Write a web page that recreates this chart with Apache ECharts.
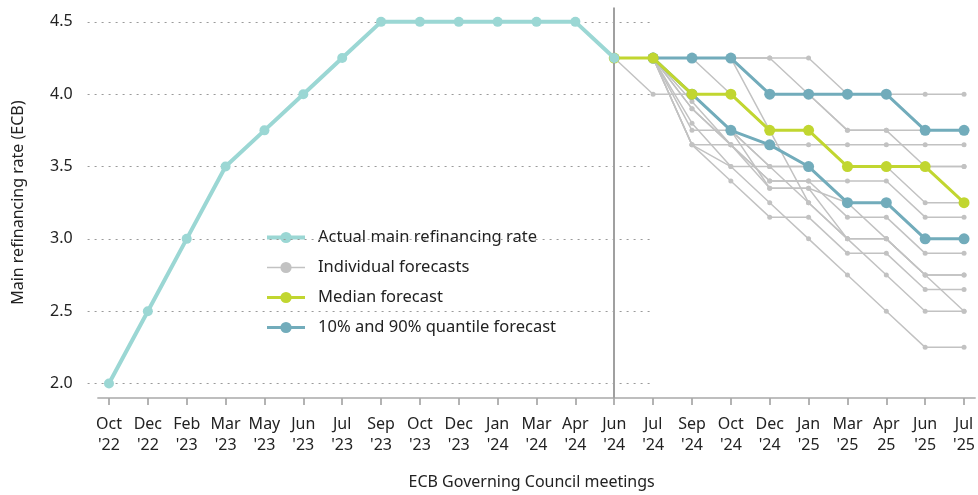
<!DOCTYPE html>
<html><head><meta charset="utf-8">
<script src="https://cdn.jsdelivr.net/npm/echarts@6/dist/echarts.min.js"></script>
<style>html,body{margin:0;padding:0;background:#fff}#c{width:978px;height:495px}</style>
</head><body><div id="c"></div>
<script>
var categories = ["Oct\n'22","Dec\n'22","Feb\n'23","Mar\n'23","May\n'23","Jun\n'23","Jul\n'23","Sep\n'23","Oct\n'23","Dec\n'23","Jan\n'24","Mar\n'24","Apr\n'24","Jun\n'24","Jul\n'24","Sep\n'24","Oct\n'24","Dec\n'24","Jan\n'25","Mar\n'25","Apr\n25","Jun\n'25","Jul\n'25"];
var yTicks = [2.0, 2.5, 3.0, 3.5, 4.0, 4.5];
var actualRate = [2.0,2.5,3.0,3.5,3.75,4.0,4.25,4.5,4.5,4.5,4.5,4.5,4.5,4.25];
var medianStart = 13;
var medianForecast = [4.25,4.25,4.0,4.0,3.75,3.75,3.5,3.5,3.5,3.25];
var quantileStart = 14;
var q90Forecast = [4.25,4.25,4.25,4.0,4.0,4.0,4.0,3.75,3.75];
var q10Forecast = [4.25,4.0,3.75,3.65,3.5,3.25,3.25,3.0,3.0];
var individualStart = 13;
var f1 = [4.25,4.25,4.25,4.25,4.25,4.25,4.0,4.0,4.0,4.0];
var f2 = [4.25,4.25,4.25,4.25,4.25,4.0,3.75,3.75,3.5,3.5];
var f3 = [4.25,4.25,4.25,4.25,4.0,4.0,3.75,3.75,3.75,3.75];
var f4 = [4.25,4.25,4.25,4.0,3.75,3.75,3.5,3.5,3.25,3.25];
var f5 = [4.25,4.0,4.0,4.0,3.75,3.75,3.5,3.5,3.5,3.5];
var f6 = [4.25,4.25,3.95,3.65,3.65,3.65,3.65,3.65,3.65,3.65];
var f7 = [4.25,4.25,3.9,3.65,3.4,3.4,3.15,3.15,2.9,2.9];
var f8 = [4.25,4.25,3.8,3.5,3.5,3.5,3.25,3.25,3.0,3.0];
var f9 = [4.25,4.25,3.75,3.75,3.5,3.25,3.0,3.0,2.75,2.75];
var f10 = [4.25,4.25,3.65,3.65,3.4,3.4,3.4,3.4,3.15,3.15];
var f11 = [4.25,4.25,3.65,3.4,3.15,3.15,2.9,2.9,2.65,2.65];
var f12 = [4.25,4.25,3.65,3.5,3.25,3.0,2.75,2.5,2.25,2.25];
var f13 = [4.25,4.25,4.0,3.75,3.5,3.5,3.25,3.0,2.75,2.5];
var f14 = [4.25,4.25,4.0,3.75,3.35,3.35,3.0,2.75,2.5,2.5];
var f15 = [4.25,4.25,3.9,3.65,3.35,3.35,3.25,3.25,3.0,3.0];
var f16 = [4.25,4.25,4.25,4.25,3.75,3.25,3.0,3.0,2.75,2.75];
var individualForecasts = [f1,f2,f3,f4,f5,f6,f7,f8,f9,f10,f11,f12,f13,f14,f15,f16];

var FONT = 'Noto Sans';
var FS = 16;
var cActual = '#9bd7d4', cMed = '#c1d630', cQ = '#72acbb', cInd = '#c2c2c2';
function pairs(start, arr){ return arr.map(function(v,i){ return [start+i, v]; }); }
var idx = categories.map(function(_,i){return i;});

var series = [];
series.push({
  type:'line', data:[], silent:true, z:1,
  markLine:{
    silent:true, symbol:'none', label:{show:false},
    lineStyle:{color:'#9a9a9a', type:[2,5], width:1},
    data: yTicks.map(function(v){ return [{coord:[-0.55, v]},{coord:[14, v]}]; })
      .concat([[{coord:[-0.3, 1.9], lineStyle:{type:'solid', color:'#a8a8a8', width:1.5}},{coord:[22.3, 1.9]}]])
      .concat([[{coord:[13, 4.6], lineStyle:{type:'solid', color:'#a0a0a0', width:2}},{coord:[13, 1.9]}]])
  }
});
individualForecasts.forEach(function(f){
  series.push({
    name:'Individual forecasts', type:'line', data:pairs(individualStart, f), z:2,
    symbol:'circle', symbolSize:5, showSymbol:true,
    lineStyle:{color:cInd, width:1.5}, itemStyle:{color:cInd}, emphasis:{disabled:true}
  });
});
[q90Forecast, q10Forecast].forEach(function(q){
  series.push({
    name:'10% and 90% quantile forecast', type:'line', data:pairs(quantileStart, q), z:3,
    symbol:'circle', symbolSize:11, lineStyle:{color:cQ, width:3}, itemStyle:{color:cQ}
  });
});
series.push({
  name:'Median forecast', type:'line', data:pairs(medianStart, medianForecast), z:4,
  symbol:'circle', symbolSize:11, lineStyle:{color:cMed, width:3}, itemStyle:{color:cMed}
});
series.push({
  name:'Actual main refinancing rate', type:'line', data:pairs(0, actualRate), z:5,
  symbol:'circle', symbolSize:10, lineStyle:{color:cActual, width:4}, itemStyle:{color:cActual}
});

var chart = echarts.init(document.getElementById('c'), null, {renderer:'canvas'});
chart.setOption({
  animation:false,
  textStyle:{fontFamily:FONT},
  grid:{left:87.6, right:0.3, top:7.4, bottom:93.4, containLabel:false},
  legend:{
    orient:'vertical', left:260, top:224, itemWidth:38, itemHeight:14, itemGap:13,
    textStyle:{fontFamily:FONT, fontSize:16.5, color:'#222', padding:[0,0,0,8]},
    data:[
      {name:'Actual main refinancing rate', lineStyle:{width:4, color:cActual}, itemStyle:{color:cActual}},
      {name:'Individual forecasts', lineStyle:{width:1.5, color:cInd}, itemStyle:{color:cInd}},
      {name:'Median forecast', lineStyle:{width:3, color:cMed}, itemStyle:{color:cMed}},
      {name:'10% and 90% quantile forecast', lineStyle:{width:3, color:cQ}, itemStyle:{color:cQ}}
    ]
  },
  xAxis:{
    type:'value', min:-0.55, max:22.3,
    name:'ECB Governing Council meetings', nameLocation:'middle', nameGap:76,
    nameTextStyle:{fontFamily:FONT, fontSize:FS, color:'#222'},
    axisLine:{show:false}, splitLine:{show:false},
    axisTick:{show:true, customValues:idx, length:7, lineStyle:{color:'#9a9a9a', width:1.5}},
    axisLabel:{customValues:idx, margin:16, fontFamily:FONT, fontSize:FS, color:'#222', lineHeight:21,
      formatter:function(v){ return categories[Math.round(v)]; }}
  },
  yAxis:{
    type:'value', min:1.9, max:4.6,
    name:'Main refinancing rate (ECB)', nameLocation:'middle', nameGap:61, nameRotate:90,
    nameTextStyle:{fontFamily:FONT, fontSize:FS, color:'#222'},
    axisLine:{show:false}, axisTick:{show:false}, splitLine:{show:false},
    axisLabel:{customValues:yTicks, margin:15, fontFamily:FONT, fontSize:FS, color:'#222',
      formatter:function(v){ return v.toFixed(1); }}
  },
  series:series
});
</script></body></html>
